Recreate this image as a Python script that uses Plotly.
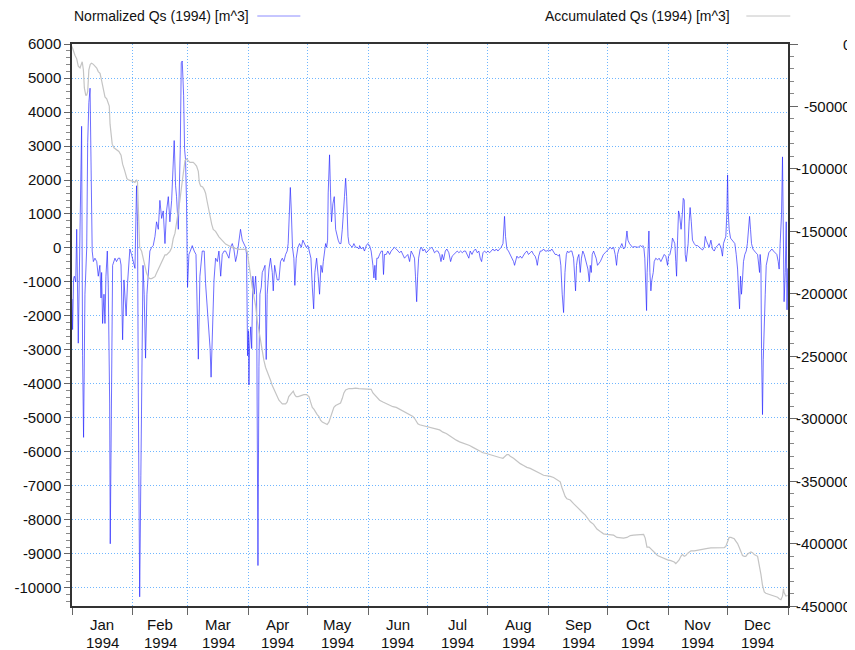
import pandas as pd
import plotly.graph_objects as go

# ---------------- data (day of year 1994, value) ----------------
norm_day = [0.0,0.3,0.8,1.2,1.9,2.4,3.2,4.0,4.9,5.4,5.9,6.6,7.5,8.0,8.6,9.2,9.7,10.3,10.9,11.7,12.6,13.4,14.2,14.8,15.1,15.6,16.3,16.8,17.3,18.0,18.5,19.2,19.5,20.2,20.7,21.9,22.7,23.6,24.4,25.0,25.8,26.5,27.6,28.3,29.1,29.5,30.4,31.2,32.1,32.9,33.4,33.8,34.1,34.5,35.1,35.6,36.2,36.8,37.5,38.2,38.9,39.7,40.6,41.4,42.3,43.1,44.0,44.8,45.7,46.5,47.4,48.2,49.1,49.9,50.8,51.6,52.1,52.8,53.3,54.2,54.7,55.2,55.7,56.2,56.9,57.4,57.9,58.4,58.9,59.6,60.3,61.3,62.3,63.2,64.4,65.2,66.4,67.4,68.1,69.1,70.4,70.9,71.5,72.4,73.2,74.1,74.9,75.8,76.6,77.5,78.3,79.1,80.0,80.8,81.7,82.5,83.4,84.2,85.1,85.9,86.8,87.6,88.5,89.0,89.5,89.9,90.2,90.5,91.1,91.6,92.2,92.9,93.6,94.1,94.6,94.8,95.3,95.8,96.5,97.0,97.7,98.4,99.0,99.5,100.4,101.2,102.1,102.6,103.3,103.8,104.6,105.5,106.3,107.2,108.0,108.9,109.7,110.2,110.9,111.3,111.8,112.4,113.1,113.6,114.3,115.2,116.0,116.9,117.7,118.6,119.4,120.3,121.1,121.8,122.5,123.2,123.8,124.7,125.5,126.2,126.9,127.6,128.1,128.8,129.3,129.8,130.3,130.6,131.3,131.8,132.3,133.0,133.7,134.4,135.1,135.7,136.4,137.1,137.8,138.4,138.9,139.5,140.0,140.7,141.2,142.0,142.9,143.7,144.6,145.4,146.3,
            146.6,147.5,148.3,149.1,150.0,150.8,151.7,152.5,153.4,153.9,154.4,154.9,155.4,156.1,156.8,157.7,158.3,158.8,159.3,160.2,161.0,161.9,162.7,163.6,164.4,165.3,166.1,167.0,167.8,168.7,169.5,170.4,171.2,172.1,172.9,173.8,174.6,175.1,175.7,176.2,176.7,177.5,178.2,178.9,179.7,180.6,181.4,182.3,183.1,184.0,184.8,185.7,186.5,187.4,188.1,188.7,189.4,190.3,191.1,192.1,193.0,193.8,194.7,195.5,196.4,197.2,198.1,199.0,199.8,200.6,201.5,202.3,203.0,203.9,204.7,205.7,206.6,207.4,208.1,208.8,209.5,210.3,211.2,212.0,212.9,213.7,214.6,215.4,216.3,217.1,218.0,218.8,219.7,
            220.0,220.5,221.0,221.7,222.5,223.4,224.2,225.1,225.6,226.3,226.8,227.6,228.5,229.3,230.2,231.0,231.9,232.7,233.6,234.4,235.3,236.1,236.7,237.2,237.9,238.7,239.5,240.4,241.2,242.1,242.9,243.8,244.6,245.5,246.3,247.2,248.0,248.5,249.2,249.9,250.6,251.3,252.0,252.6,253.3,254.0,254.8,255.7,256.2,256.7,257.2,257.7,258.4,259.1,259.7,260.4,261.1,261.6,262.3,263.0,263.7,264.2,264.7,265.2,265.9,266.5,267.2,267.9,268.6,269.3,270.1,270.9,271.8,272.7,273.5,274.4,275.2,276.1,276.9,277.6,278.1,278.8,279.5,280.3,281.2,282.0,282.9,283.4,284.2,284.9,285.7,286.6,287.6,288.6,289.7,290.5,291.0,291.5,292.0,292.5,292.9,
            293.2,293.7,294.1,294.6,295.1,295.6,296.3,296.8,297.6,298.5,299.3,300.2,301.0,301.9,302.7,303.6,304.1,304.8,305.6,306.1,306.6,307.3,307.8,308.2,308.7,309.2,309.7,310.0,310.5,311.1,311.6,312.1,312.6,313.1,313.6,314.1,314.6,315.1,315.7,316.3,317.2,318.0,318.9,319.7,320.6,321.4,322.3,322.8,323.3,324.0,324.8,325.7,326.5,327.4,328.2,329.1,329.9,330.8,331.6,332.1,332.8,333.3,333.8,334.2,334.5,335.0,335.7,336.4,337.2,337.9,338.6,339.3,339.8,340.3,340.8,341.3,341.8,342.3,343.0,343.7,344.3,344.9,345.4,345.9,346.4,347.1,347.8,348.6,349.5,350.0,350.5,350.8,351.2,351.5,352.0,352.4,352.9,353.4,353.9,354.6,355.2,355.9,356.8,357.6,358.5,359.3,360.0,360.5,361.0,361.7,362.2,362.7,363.0,363.6,364.1,364.5,364.9]
norm_val = [-1500,-2400,-900,-830,-1000,550,-2800,340,3580,-3170,-5570,-1360,0,3100,4280,4700,1830,-90,-400,-300,-400,-830,-510,-1470,-720,-2220,-1360,-2220,-830,-90,-1150,-4560,-8700,-1900,-510,-300,-400,-300,-300,-500,-2700,-940,-2000,-1050,-300,-30,-200,-400,-600,1830,770,-4240,-6700,-10260,-6700,-2430,-510,-1360,-3240,-1360,-830,-90,20,70,340,770,550,1400,870,1090,130,1090,1510,770,1400,2900,3160,1830,1510,550,1830,2900,5450,5500,4490,2900,2580,1300,-1150,-190,-90,70,-90,-190,-3270,-830,-90,-90,-1050,-1900,-2960,-3800,-2400,-940,-300,-400,-90,-830,-190,-90,-90,-190,-300,20,130,-30,-400,-190,130,550,230,130,20,-190,-3170,-2430,-4030,-2960,-2320,-2960,-830,-1360,-830,-1360,-7750,-9340,-3490,-1360,-1150,-720,-620,-510,-3280,-1360,-620,-300,-720,-1260,-510,-720,-940,-940,-400,-300,-400,-190,-90,130,1300,1780,1090,20,-300,-1100,-300,20,130,20,230,130,20,70,-90,-300,-1150,-1790,-720,-300,-830,-1360,-510,-720,-400,-90,130,20,230,1620,2740,1620,770,1300,1510,550,340,230,130,130,550,980,1510,2050,1510,340,130,70,20,130,20,20,-30,
            70,-30,20,-90,70,130,70,-90,-510,-880,-510,-940,-300,-300,-190,-90,-90,-780,-190,-190,-90,-190,-90,-30,20,-30,-90,-140,-90,-190,-300,-240,-190,-400,-90,-190,-300,-830,-1580,-830,-300,-30,20,-90,-30,-140,-90,-30,20,-30,-140,-90,-90,-190,-400,-190,-350,-90,-30,-140,-400,-240,-190,-140,-90,-140,-90,-140,-90,-90,-190,-300,-90,-190,-90,-30,-140,-90,-300,-400,-140,-90,-140,-90,-140,-90,-30,-90,-30,-90,-30,20,130,
            450,930,340,-30,-90,-190,-300,-400,-510,-300,-240,-300,-240,-300,-190,-140,-90,-190,-140,-90,-190,-240,-350,-510,-240,-90,-90,-30,-90,-90,-60,-90,-30,-140,-190,-190,-240,-190,-510,-1360,-1900,-720,-190,-90,-140,-90,-90,-300,-720,-1260,-510,-300,-190,-720,-300,-90,-190,-300,-400,-620,-990,-510,-720,-190,-90,-190,-300,-510,-460,-400,-300,-190,-140,-90,-30,20,-30,20,-190,-510,-190,-30,20,130,-30,20,500,230,130,70,20,40,20,20,70,40,70,20,-300,-1360,-1840,
            -720,450,500,-720,-1260,-940,-720,-400,-300,-350,-300,-400,-300,-190,-240,-510,-240,-190,20,290,230,130,-400,-830,230,1090,980,770,550,980,1460,1410,-190,-400,-190,130,770,1190,770,230,130,70,70,20,-30,-60,20,340,230,130,20,230,-30,-90,20,70,130,20,-240,130,230,340,980,2150,1090,550,290,230,180,130,-190,-620,-1260,-1790,-830,-1360,-940,-400,-190,-90,130,550,930,550,130,-30,-90,-140,-190,-400,-720,-190,-510,-2960,-4900,-3280,-2000,-1360,-510,-300,-140,-90,-30,-90,-140,-190,-400,-620,130,980,2680,770,-1580,-720,770,-1820,-600]

acc_day = [0.0,0.7,1.5,2.4,3.2,4.1,4.6,5.2,5.8,6.3,7.0,7.5,8.0,8.6,9.3,10.0,10.9,11.7,12.6,13.4,14.3,15.1,16.0,16.8,17.7,18.5,19.0,19.4,19.9,20.5,21.4,22.8,23.9,25.0,25.8,26.7,27.3,28.0,28.7,29.7,30.7,31.4,32.1,32.9,33.4,34.0,34.5,35.5,36.3,37.2,38.0,38.9,39.7,40.6,41.4,42.3,43.1,44.0,44.8,45.7,46.5,47.4,48.2,49.1,49.9,50.8,51.6,52.5,53.3,54.2,55.0,55.9,56.7,57.6,58.4,59.3,60.1,61.0,61.8,62.7,63.5,64.4,64.9,65.6,66.6,67.4,68.1,68.8,69.5,70.3,71.2,72.0,73.2,74.9,76.6,78.3,80.0,81.7,83.4,85.1,86.8,88.5,89.3,90.2,91.1,91.9,92.7,93.6,94.4,95.3,96.1,97.0,97.8,98.7,99.5,100.4,101.2,102.1,102.9,103.8,104.6,105.5,106.3,107.2,108.9,109.7,110.5,111.4,112.3,112.8,113.5,114.3,115.3,116.5,117.4,118.2,119.6,120.8,121.6,122.5,123.3,124.2,125.0,125.9,126.7,127.6,128.4,129.3,130.1,131.0,131.8,132.7,133.5,134.4,135.2,136.1,136.9,137.8,138.6,139.5,140.3,141.2,142.9,144.6,146.3,148.3,150.8,152.5,153.4,154.2,155.1,156.0,156.8,158.5,160.2,161.9,163.6,165.3,167.0,168.7,170.4,172.1,173.8,174.6,175.5,176.3,177.2,178.9,180.6,182.3,184.0,185.7,187.4,189.1,190.8,192.5,194.2,195.9,197.6,199.3,201.0,202.7,204.4,206.1,207.8,209.5,211.2,212.9,214.6,216.3,218.0,219.7,220.9,221.7,222.6,223.4,225.1,226.8,228.5,230.2,231.9,233.6,235.3,237.0,238.7,240.4,242.1,243.8,245.5,247.2,248.9,249.7,250.6,251.4,252.3,254.0,255.7,257.4,259.1,260.8,261.6,262.5,263.3,264.2,265.9,267.6,269.3,271.0,272.7,274.4,276.1,277.8,279.5,281.2,282.9,284.6,286.3,288.0,289.7,291.4,292.2,293.1,294.2,295.1,296.8,298.5,300.2,301.9,303.6,305.3,307.0,307.8,308.7,309.5,310.4,311.2,312.1,312.9,313.8,314.6,315.5,317.2,318.9,320.6,322.3,324.0,325.7,327.4,329.1,330.8,332.5,333.3,334.2,335.0,335.9,336.7,337.6,338.4,339.3,340.1,341.0,341.8,342.7,343.5,344.4,345.2,346.1,346.9,347.8,349.5,350.3,351.2,352.0,352.9,353.7,355.4,357.1,358.8,359.7,360.5,361.4,362.2,362.7,363.0,363.9,364.8]
acc_val = [-2000,-6100,-9000,-11900,-17700,-19200,-16300,-14200,-20600,-35200,-41000,-41000,-38100,-20600,-16300,-15400,-16300,-17700,-19200,-22100,-23500,-29400,-35200,-42400,-43900,-46800,-49700,-64200,-73000,-80200,-83100,-84600,-86000,-89000,-96200,-100600,-103500,-107800,-108700,-109300,-109300,-110200,-110800,-108700,-110800,-134000,-163100,-166000,-171800,-177600,-183400,-186900,-187800,-187800,-186900,-186300,-183400,-180500,-177600,-174700,-171800,-168900,-168900,-167400,-166000,-163100,-155800,-151500,-144200,-134000,-125300,-113700,-102000,-93300,-91900,-93300,-94800,-94800,-94800,-96200,-97700,-102000,-110800,-113700,-114500,-116600,-119500,-125300,-131100,-136900,-144200,-148500,-150000,-154400,-157300,-160200,-161600,-163100,-163700,-164500,-164500,-164500,-166000,-174700,-186300,-195000,-200900,-209600,-221200,-229900,-238700,-247400,-253200,-259000,-261900,-264800,-269200,-273500,-276400,-279400,-282300,-285200,-286600,-288100,-288100,-286600,-282300,-280800,-278800,-277900,-280800,-282300,-282300,-281700,-281100,-280800,-280800,-282300,-286600,-291000,-292400,-295400,-296800,-298300,-301200,-302600,-303200,-304100,-304700,-302600,-298300,-293900,-291000,-289500,-288700,-288100,-287500,-283700,-279400,-277000,-276500,-275900,-275900,-275600,-275900,-275900,-275900,-276500,-279400,-280800,-282300,-283700,-285200,-286600,-288100,-289500,-290400,-291000,-292400,-293900,-295400,-296800,-298300,-299700,-302600,-304100,-304900,-305500,-306100,-307000,-307600,-307900,-309000,-310800,-311900,-313700,-315700,-317200,-318600,-319500,-320600,-321500,-323000,-324400,-325900,-327300,-327900,-328800,-329700,-330200,-331100,-331700,-330200,-328800,-328800,-330200,-331700,-334000,-336000,-337500,-339000,-339800,-341000,-342700,-343900,-345300,-345600,-346200,-347100,-349100,-350600,-354900,-359300,-362200,-364200,-365100,-368000,-370900,-373800,-375900,-377000,-378800,-381100,-382600,-384600,-388400,-390400,-392200,-392700,-393300,-393300,-395100,-395600,-395600,-395100,-393600,-393300,-393300,-393000,-392700,-395600,-402900,-402900,-404400,-407300,-409600,-410800,-412200,-413100,-413700,-414800,-416000,-414500,-413100,-410200,-408700,-410200,-409600,-407900,-406700,-405800,-405800,-405200,-404400,-403800,-403800,-403500,-403500,-403800,-403800,-403200,-402300,-398000,-395100,-395100,-395600,-396200,-398000,-400000,-402900,-407300,-409600,-410200,-410200,-408400,-407300,-406700,-407300,-408700,-410200,-416000,-424700,-433400,-438700,-439800,-440700,-441600,-442100,-443000,-444200,-445000,-442100,-436300,-439200,-442100,-441600]

left_ticks = list(range(-10000, 6001, 1000))
right_ticks = list(range(-450000, 1, 50000))
month_labels = ["Jan", "Feb", "Mar", "Apr", "May", "Jun", "Jul", "Aug", "Sep", "Oct", "Nov", "Dec"]
year_label = "1994"
series_names = ["Normalized Qs (1994) [m^3]", "Accumulated Qs (1994) [m^3]"]
year_start = "1994-01-01"
year_end = "1995-01-01"

start = pd.Timestamp(year_start)
to_dates = lambda days: [start + pd.Timedelta(days=d) for d in days]
month_starts = pd.date_range(year_start, year_end, freq="MS")
month_mids = [a + (b - a) / 2 for a, b in zip(month_starts[:-1], month_starts[1:])]

FONT = "Liberation Sans, Arial, sans-serif"
GRID = "#6fb6ff"
AXIS = "#333333"
BLUE = "rgba(40,40,255,0.85)"
GREY = "#c4c4c4"
DOT = "1px,2px"

fig = go.Figure()
fig.add_trace(go.Scatter(x=to_dates(acc_day), y=acc_val, yaxis="y2", mode="lines",
                         line=dict(color=GREY, width=1.2), name=series_names[1], showlegend=False))
fig.add_trace(go.Scatter(x=to_dates(norm_day), y=norm_val, mode="lines",
                         line=dict(color=BLUE, width=0.8), name=series_names[0], showlegend=False))

# the page body adds an 8px offset, so the figure is 8px smaller and margins shifted
fig.update_layout(
    width=847, height=642,
    margin=dict(l=64, r=67, t=36, b=44, autoexpand=False),
    paper_bgcolor="white", plot_bgcolor="white",
    font=dict(family=FONT, size=15, color="#111"),
    xaxis=dict(type="date", range=[year_start, year_end], tick0=year_start, dtick="M1",
               showticklabels=False, automargin=False,
               ticks="outside", ticklen=7, tickcolor="#666", tickwidth=1,
               showgrid=True, gridcolor=GRID, griddash=DOT, gridwidth=1,
               showline=True, linecolor=AXIS, linewidth=1.5, mirror=True,
               zeroline=False),
    yaxis=dict(range=[-10530, 6000], tickmode="array", tickvals=left_ticks,
               ticktext=[str(v) for v in left_ticks], automargin=False,
               ticks="outside", ticklen=6, tickcolor="#666",
               minor=dict(tickmode="linear", tick0=0, dtick=200, ticks="outside",
                          ticklen=4, tickcolor="#888", showgrid=False),
               showgrid=True, gridcolor=GRID, griddash=DOT, gridwidth=1,
               showline=True, linecolor=AXIS, linewidth=1.5, zeroline=False,
               tickfont=dict(size=15)),
    yaxis2=dict(range=[-450000, 0], overlaying="y", side="right", automargin=False,
                tickmode="linear", tick0=0, dtick=50000,
                ticks="outside", ticklen=8, tickcolor="#666",
                minor=dict(tickmode="linear", tick0=0, dtick=10000, ticks="outside",
                           ticklen=4, tickcolor="#888", showgrid=False),
                showticklabels=False, showgrid=False,
                showline=True, linecolor=AXIS, linewidth=1.5, zeroline=False),
)

# month / year labels centred in each month
for m, lbl in zip(month_mids, month_labels):
    fig.add_annotation(x=m, xref="x", y=-0.0338, yref="paper", text=lbl,
                       showarrow=False, xanchor="center", yanchor="middle",
                       font=dict(family=FONT, size=15, color="#111"))
    fig.add_annotation(x=m, xref="x", y=-0.0641, yref="paper", text=year_label,
                       showarrow=False, xanchor="center", yanchor="middle",
                       font=dict(family=FONT, size=15, color="#111"))

# right axis labels (right aligned, like the reference)
for v in right_ticks:
    fig.add_annotation(x=1.0908, xref="paper", y=v, yref="y2", text=str(v),
                       showarrow=False, xanchor="right", yanchor="middle",
                       font=dict(family=FONT, size=15, color="#111"))

# legend: text followed by a line sample
ly = 1 + (36 - 8) / 562
fig.add_annotation(x=0.0, xref="paper", y=ly, yref="paper", text=series_names[0],
                   showarrow=False, xanchor="left", yanchor="middle",
                   font=dict(family=FONT, size=14, color="#111"))
fig.add_shape(type="line", xref="paper", yref="paper", x0=0.2588, x1=0.3189, y0=ly, y1=ly,
              line=dict(color="#8c8cff", width=1))
fig.add_annotation(x=0.9222, xref="paper", y=ly, yref="paper", text=series_names[1],
                   showarrow=False, xanchor="right", yanchor="middle",
                   font=dict(family=FONT, size=14, color="#111"))
fig.add_shape(type="line", xref="paper", yref="paper", x0=0.9418, x1=1.0032, y0=ly, y1=ly,
              line=dict(color=GREY, width=1))

fig.write_html("out.html")
